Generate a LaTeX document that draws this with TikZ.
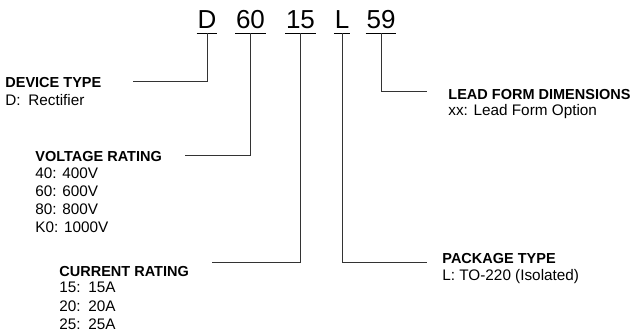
\documentclass[tikz,border=0pt]{standalone}
\usepackage{fontspec}
\setmainfont{Liberation Sans}
\usetikzlibrary{positioning}

\begin{document}
\begin{tikzpicture}[x=1pt, y=-1pt, line width=0.8pt,
    code/.style={font=\fontsize{26}{26}\selectfont, inner xsep=0.5pt, inner ysep=5pt, text depth=0pt, anchor=base},
    head/.style={font=\bfseries\fontsize{14.5}{14.5}\selectfont, inner sep=0pt, anchor=base west},
    item/.style={font=\fontsize{15.3}{18.2}\selectfont, inner sep=0pt, anchor=north west, align=left},
    leader/.style={black!80, line width=0.9pt}]
  \useasboundingbox (0,0) rectangle (637,335);

  % part number
  \node[code] (dev)  at (207,28)   {D};
  \node[code] (volt) at (250.5,28) {60};
  \node[code] (curr) at (300.5,28) {15};
  \node[code] (pkg)  at (342,28)   {L};
  \node[code] (lead) at (381,28)   {59};
  \foreach \n in {dev,volt,curr,pkg,lead}
    \draw (\n.south west) -- (\n.south east);

  % field descriptions
  \node[head] (devhead) at (5,87) {DEVICE TYPE};
  \node[item] (devitem) at (5,94) {D:\enspace Rectifier};

  \node[head] (volthead) at (35,161) {VOLTAGE RATING};
  \node[item] (voltitem) at (35,167) {40: 400V\\60: 600V\\80: 800V\\K0: 1000V};

  \node[head] (currhead) at (59,276) {CURRENT RATING};
  \node[item] (curritem) at (59,282) {15:\enspace 15A\\20:\enspace 20A\\25:\enspace 25A};

  \node[head] (pkghead) at (442,263) {PACKAGE TYPE};
  \node[item] (pkgitem) at (442,269) {L: TO-220 (Isolated)};

  \node[head] (leadhead) at (448,99) {LEAD FORM DIMENSIONS};
  \node[item] (leaditem) at (448,104) {xx: Lead Form Option};

  % leader ends
  \coordinate (devend)  at (133,81);
  \coordinate (voltend) at (185,155);
  \coordinate (currend) at (212,262);
  \coordinate (pkgend)  at (427,262);
  \coordinate (leadend) at (427,91);

  \draw[leader] (dev.south)  |- (devend);
  \draw[leader] (volt.south) |- (voltend);
  \draw[leader] (curr.south) |- (currend);
  \draw[leader] (pkg.south)  |- (pkgend);
  \draw[leader] (lead.south) |- (leadend);
\end{tikzpicture}
\end{document}
